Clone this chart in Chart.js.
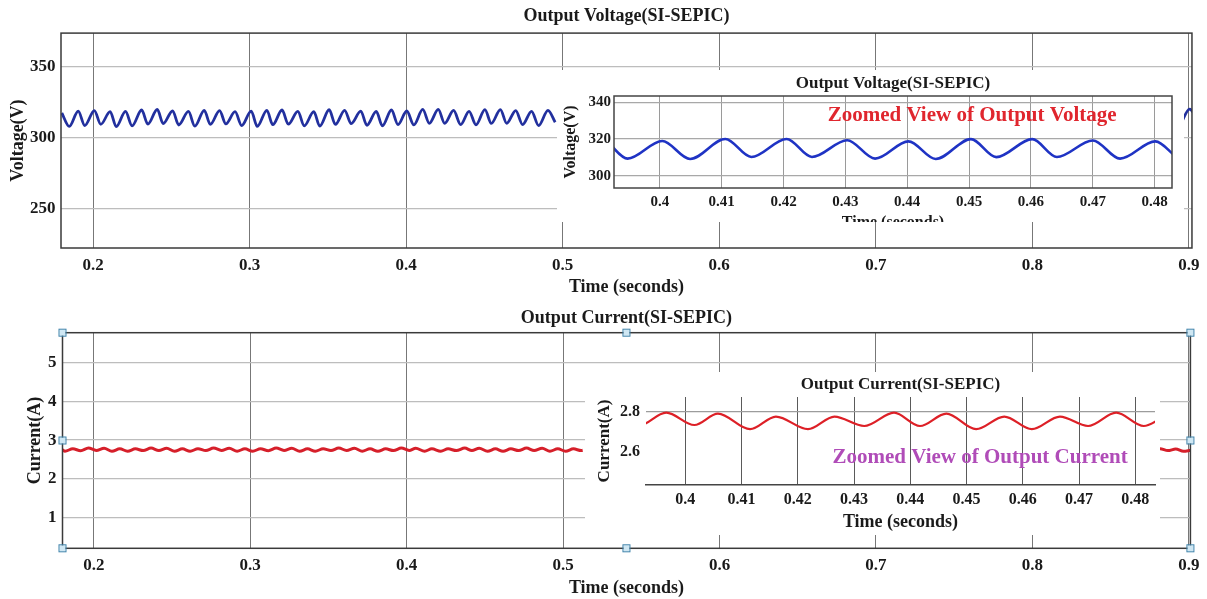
<!DOCTYPE html>
<html>
<head>
<meta charset="utf-8">
<title>Output Voltage / Output Current (SI-SEPIC)</title>
<script src="https://cdn.jsdelivr.net/npm/chart.js@4.4.0/dist/chart.umd.min.js"></script>
<style>
  html, body { margin: 0; padding: 0; background: #fff; }
  #page { position: relative; width: 1207px; height: 599px; overflow: hidden; background: #fff; }
  .box { position: absolute; background: #fff; overflow: hidden; }
  canvas { display: block; }
</style>
</head>
<body>
<div id="page">
  <div class="box" style="left:0;top:0;width:1207px;height:300px"><canvas id="voltMain" width="1207" height="300"></canvas></div>
  <div class="box" style="left:0;top:300px;width:1207px;height:299px"><canvas id="currMain" width="1207" height="299"></canvas></div>
  <div class="box" style="left:557px;top:70px;width:627px;height:152px"><canvas id="voltZoom" width="627" height="165"></canvas></div>
  <div class="box" style="left:585px;top:372px;width:575px;height:163px"><canvas id="currZoom" width="575" height="163"></canvas></div>
</div>
<script>
// ---- tick values / labels ----
const timeTicks = [0.2, 0.3, 0.4, 0.5, 0.6, 0.7, 0.8, 0.9];
const timeTickLabels = ["0.2", "0.3", "0.4", "0.5", "0.6", "0.7", "0.8", "0.9"];
const zoomTimeTicks = [0.40, 0.41, 0.42, 0.43, 0.44, 0.45, 0.46, 0.47, 0.48];
const zoomTimeTickLabels = ["0.4", "0.41", "0.42", "0.43", "0.44", "0.45", "0.46", "0.47", "0.48"];
const voltTicks = [250, 300, 350];
const voltZoomTicks = [300, 320, 340];
const currTicks = [1, 2, 3, 4, 5];
const currZoomTicks = [2.6, 2.8];

// ---- output voltage (s, V); null = hidden under the inset ----
const voltTime = [
  0.1800, 0.1848, 0.1905, 0.1947, 0.2008, 0.2049, 0.2109, 0.2148,
  0.2207, 0.2249, 0.2310, 0.2350, 0.2410, 0.2448, 0.2508, 0.2547,
  0.2609, 0.2650, 0.2710, 0.2749, 0.2808, 0.2848, 0.2907, 0.2949,
  0.3010, 0.3049, 0.3110, 0.3148, 0.3207, 0.3247, 0.3308, 0.3349,
  0.3410, 0.3448, 0.3508, 0.3548, 0.3607, 0.3649, 0.3710, 0.3749,
  0.3809, 0.3848, 0.3906, 0.3948, 0.4004, 0.4049, 0.4106, 0.4148,
  0.4205, 0.4246, 0.4303, 0.4348, 0.4402, 0.4446, 0.4503, 0.4544,
  0.4602, 0.4642, 0.4700, 0.4744, 0.4801, 0.4846, 0.4906, 0.4952,
  0.7000, 0.8948, 0.9005, 0.9040
];
const voltValue = [
  317.5, 308.0, 318.8, 308.6, 319.2, 309.5, 318.4, 307.8,
  318.6, 308.4, 319.6, 309.6, 320.0, 310.0, 319.0, 309.0,
  318.6, 308.2, 319.4, 309.4, 319.2, 309.8, 318.4, 308.6,
  318.8, 308.0, 319.4, 309.2, 319.6, 309.6, 318.6, 308.4,
  318.4, 308.2, 319.8, 309.4, 319.4, 310.0, 318.8, 308.8,
  318.6, 308.4, 319.6, 309.3, 318.9, 309.1, 320.0, 310.2,
  320.0, 310.2, 319.3, 309.3, 318.7, 309.1, 319.9, 310.1,
  319.9, 310.2, 319.2, 309.3, 318.7, 308.6, 319.4, 311.0,
  null, 309.6, 320.2, 316.0
];

// ---- output current (s, A) ----
const currTime = [
  0.1800, 0.1816, 0.1866, 0.1916, 0.1966, 0.2016, 0.2066, 0.2116,
  0.2166, 0.2216, 0.2266, 0.2316, 0.2366, 0.2416, 0.2466, 0.2516,
  0.2566, 0.2616, 0.2666, 0.2716, 0.2766, 0.2816, 0.2866, 0.2916,
  0.2966, 0.3016, 0.3066, 0.3116, 0.3166, 0.3216, 0.3266, 0.3316,
  0.3366, 0.3416, 0.3466, 0.3516, 0.3566, 0.3616, 0.3666, 0.3716,
  0.3766, 0.3816, 0.3866, 0.3916, 0.3966, 0.4016, 0.4058, 0.4115,
  0.4161, 0.4218, 0.4265, 0.4318, 0.4371, 0.4417, 0.4464, 0.4517,
  0.4567, 0.4616, 0.4666, 0.4716, 0.4766, 0.4815, 0.4866, 0.4916,
  0.4966, 0.5016, 0.5066, 0.5116, 0.5125, 0.7000,
  0.8790, 0.8816, 0.8866, 0.8916, 0.8966, 0.9010
];
const currValue = [
  2.745, 2.713, 2.776, 2.727, 2.796, 2.734, 2.789, 2.711,
  2.776, 2.713, 2.774, 2.729, 2.794, 2.732, 2.791, 2.712,
  2.774, 2.711, 2.777, 2.728, 2.796, 2.733, 2.789, 2.713,
  2.775, 2.712, 2.776, 2.727, 2.795, 2.734, 2.790, 2.711,
  2.774, 2.713, 2.775, 2.729, 2.796, 2.732, 2.789, 2.712,
  2.776, 2.711, 2.774, 2.728, 2.795, 2.733, 2.790, 2.712,
  2.775, 2.712, 2.775, 2.728, 2.795, 2.728, 2.790, 2.712,
  2.775, 2.712, 2.775, 2.728, 2.795, 2.728, 2.790, 2.712,
  2.776, 2.713, 2.774, 2.729, 2.735, null,
  2.758, 2.776, 2.728, 2.770, 2.712, 2.735
];

const FONT = "'Liberation Serif', 'Times New Roman', serif";
const INK = "#1a1a1a";
Chart.defaults.font.family = FONT;
Chart.defaults.font.weight = "bold";
Chart.defaults.color = INK;

function toPoints(xs, ys) {
  return xs.map((x, i) => ({ x: x, y: ys[i] }));
}

// box round the plot area
Chart.register({
  id: "frame",
  afterDraw(chart, args, o) {
    const a = chart.chartArea, ctx = chart.ctx;
    ctx.save();
    ctx.strokeStyle = o.color;
    ctx.lineWidth = o.width;
    ctx.strokeRect(a.left, a.top, a.right - a.left, a.bottom - a.top);
    ctx.restore();
  }
});

// coloured remark placed in data coordinates
Chart.register({
  id: "note",
  afterDatasetsDraw(chart, args, o) {
    const ctx = chart.ctx;
    const x = chart.scales.x.getPixelForValue(o.x);
    const y = chart.scales.y.getPixelForValue(o.y);
    ctx.save();
    ctx.font = "bold " + o.size + "px " + FONT;
    ctx.fillStyle = o.color;
    ctx.textAlign = "center";
    ctx.textBaseline = "middle";
    ctx.fillText(o.text, x, y);
    ctx.restore();
  }
});

// the little selection squares of the figure editor
const handles = {
  id: "handles",
  afterDraw(chart) {
    const a = chart.chartArea, ctx = chart.ctx;
    const cx = (a.left + a.right) / 2, cy = (a.top + a.bottom) / 2;
    const spots = [[a.left, a.top], [a.left, cy], [a.left, a.bottom], [cx, a.top],
                   [cx, a.bottom], [a.right, a.top], [a.right, cy], [a.right, a.bottom]];
    ctx.save();
    ctx.fillStyle = "#cfe7f3";
    ctx.strokeStyle = "#3f83ab";
    ctx.lineWidth = 1;
    spots.forEach(([x, y]) => {
      ctx.fillRect(x - 3, y - 3, 6, 6);
      ctx.strokeRect(x - 3.5, y - 3.5, 7, 7);
    });
    ctx.restore();
  }
};

function makeChart(id, s) {
  return new Chart(document.getElementById(id), {
    type: "line",
    data: {
      datasets: [{
        data: s.points,
        borderColor: s.color,
        borderWidth: s.lineWidth,
        pointRadius: 0,
        cubicInterpolationMode: "monotone",
        spanGaps: false
      }]
    },
    options: {
      responsive: false,
      animation: false,
      devicePixelRatio: 1,
      layout: { padding: { left: 0, right: s.padRight, top: 0, bottom: 0 } },
      plugins: {
        legend: { display: false },
        tooltip: { enabled: false },
        title: {
          display: true,
          text: s.title,
          fullSize: false,
          color: INK,
          font: { size: s.titleSize, weight: "bold" },
          padding: { top: s.titleTop, bottom: s.titleBottom }
        },
        frame: s.frame,
        note: s.note
      },
      scales: {
        x: {
          type: "linear",
          min: s.xMin,
          max: s.xMax,
          afterBuildTicks: (sc) => { sc.ticks = s.xTicks.map((v) => ({ value: v })); },
          afterFit: (sc) => { sc.height = s.xHeight; },
          ticks: {
            padding: s.xTickPad,
            maxRotation: 0,
            autoSkip: false,
            color: INK,
            font: { size: s.xTickSize, weight: "bold" },
            callback: (v, i) => s.xLabels[i]
          },
          grid: { color: s.xGrid, lineWidth: 1, drawTicks: false },
          border: s.xBorder,
          title: {
            display: true,
            text: "Time (seconds)",
            color: INK,
            font: { size: s.xTitleSize, weight: "bold" },
            padding: { top: 0, bottom: s.xTitlePad }
          }
        },
        y: {
          type: "linear",
          min: s.yMin,
          max: s.yMax,
          afterBuildTicks: (sc) => { sc.ticks = s.yTicks.map((v) => ({ value: v })); },
          afterFit: (sc) => { sc.width = s.yWidth; },
          ticks: {
            padding: s.yTickPad,
            color: INK,
            font: { size: s.yTickSize, weight: "bold" },
            callback: (v) => String(v)
          },
          grid: { color: s.yGrid, lineWidth: s.yGridWidth, drawTicks: false },
          border: { display: false },
          title: {
            display: true,
            text: s.yTitle,
            color: INK,
            font: { size: s.yTitleSize, weight: "bold" },
            padding: { top: s.yTitlePad, bottom: 0 }
          }
        }
      }
    },
    plugins: s.extra || []
  });
}

const voltPoints = toPoints(voltTime, voltValue);
const currPoints = toPoints(currTime, currValue);

makeChart("voltMain", {
  points: voltPoints, color: "#22309e", lineWidth: 2.8,
  title: "Output Voltage(SI-SEPIC)", titleSize: 18, titleTop: 6, titleBottom: 5.5,
  padRight: 13,
  xMin: 0.1795, xMax: 0.902, xTicks: timeTicks, xLabels: timeTickLabels,
  xHeight: 52, xTickPad: 7.5, xTickSize: 17, xTitleSize: 18, xTitlePad: 1.5,
  xGrid: "#777777", xBorder: { display: false },
  yMin: 222, yMax: 374, yTicks: voltTicks,
  yWidth: 61, yTickPad: 5.5, yTickSize: 17, yGrid: "#bdbdbd", yGridWidth: 1.3,
  yTitle: "Voltage(V)", yTitleSize: 18, yTitlePad: 8,
  frame: { color: "#3a3a3a", width: 1.5 }, note: false
});

makeChart("currMain", {
  points: currPoints, color: "#d61f2a", lineWidth: 3,
  title: "Output Current(SI-SEPIC)", titleSize: 18, titleTop: 7.5, titleBottom: 3.6,
  padRight: 13.5,
  xMin: 0.18, xMax: 0.901, xTicks: timeTicks, xLabels: timeTickLabels,
  xHeight: 50.7, xTickPad: 7.5, xTickSize: 17, xTitleSize: 18, xTitlePad: 0,
  xGrid: "#777777", xBorder: { display: false },
  yMin: 0.2, yMax: 5.78, yTicks: currTicks,
  yWidth: 62.5, yTickPad: 6, yTickSize: 17, yGrid: "#bdbdbd", yGridWidth: 1.3,
  yTitle: "Current(A)", yTitleSize: 18, yTitlePad: 24.4,
  frame: { color: "#3a3a3a", width: 1.5 }, note: false,
  extra: [handles]
});

makeChart("voltZoom", {
  points: voltPoints, color: "#1f33c4", lineWidth: 2.6,
  title: "Output Voltage(SI-SEPIC)", titleSize: 17, titleTop: 3.4, titleBottom: 2.2,
  padRight: 12,
  xMin: 0.3926, xMax: 0.4828, xTicks: zoomTimeTicks, xLabels: zoomTimeTickLabels,
  xHeight: 47, xTickPad: 5, xTickSize: 15, xTitleSize: 16, xTitlePad: 2.4,
  xGrid: "#9a9a9a", xBorder: { display: false },
  yMin: 293.3, yMax: 343.4, yTicks: voltZoomTicks,
  yWidth: 57, yTickPad: 3, yTickSize: 15, yGrid: "#a8a8a8", yGridWidth: 1.2,
  yTitle: "Voltage(V)", yTitleSize: 16, yTitlePad: 4.4,
  frame: { color: "#444", width: 1.5 },
  note: { text: "Zoomed View of Output Voltage", x: 0.4505, y: 332.7, size: 21, color: "#e0262e" }
});

makeChart("currZoom", {
  points: currPoints, color: "#dd2027", lineWidth: 2.2,
  title: "Output Current(SI-SEPIC)", titleSize: 17, titleTop: 2.8, titleBottom: 1.8,
  padRight: 5,
  xMin: 0.393, xMax: 0.4835, xTicks: zoomTimeTicks, xLabels: zoomTimeTickLabels,
  xHeight: 50, xTickPad: 5.4, xTickSize: 16, xTitleSize: 18, xTitlePad: 2.2,
  xGrid: "#5a5a5a", xBorder: { display: true, color: "#444", width: 1.5 },
  yMin: 2.433, yMax: 2.873, yTicks: currZoomTicks,
  yWidth: 61, yTickPad: 6, yTickSize: 16,
  yGrid: (c) => (c.tick && c.tick.value === 2.8 ? "#9c9c9c" : "rgba(0,0,0,0)"), yGridWidth: 1.3,
  yTitle: "Current(A)", yTitleSize: 17, yTitlePad: 9.8,
  frame: false,
  note: { text: "Zoomed View of Output Current", x: 0.4524, y: 2.568, size: 21, color: "#b04cb8" }
});
</script>
</body>
</html>
